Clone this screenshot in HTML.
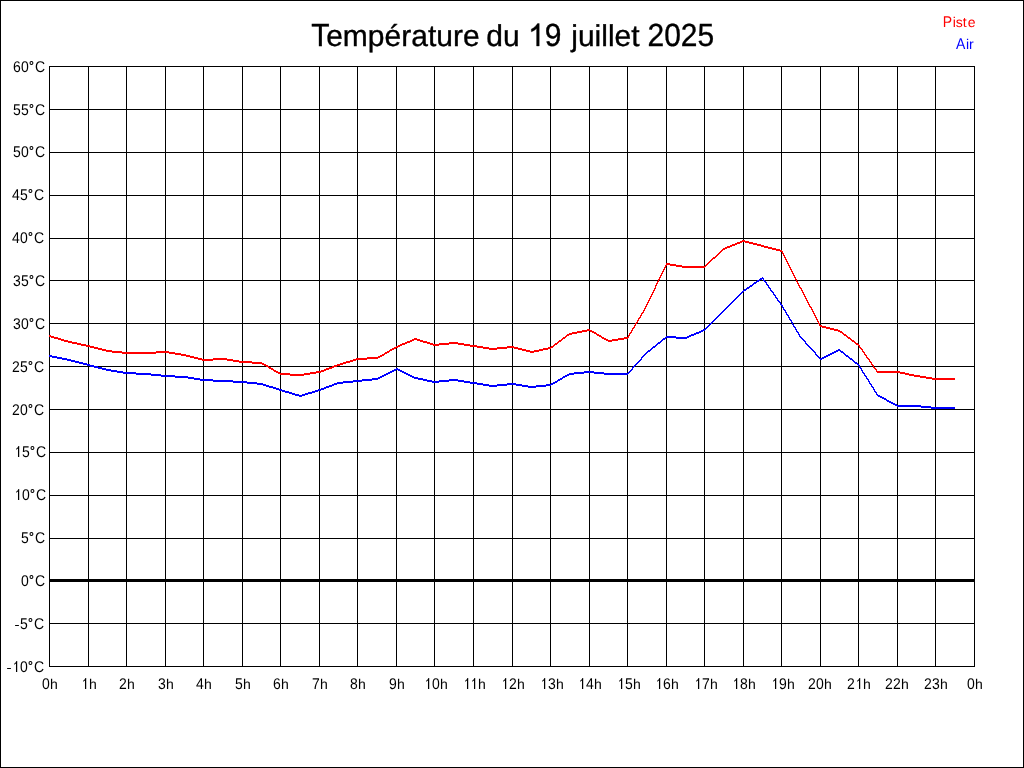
<!DOCTYPE html>
<html><head><meta charset="utf-8">
<style>
html,body{margin:0;padding:0;background:#fff;overflow:hidden;}
svg{display:block;will-change:transform;}
text{font-family:"Liberation Sans",sans-serif;font-size:14px;fill:#000;text-rendering:geometricPrecision;}
</style></head>
<body>
<svg width="1024" height="768" viewBox="0 0 1024 768">
<rect x="0" y="0" width="1024" height="768" fill="#fff"/>
<path shape-rendering="crispEdges" fill="#000" d="M0 0h1024v1h-1024zM0 767h1024v1h-1024zM0 0h1v768h-1zM1023 0h1v768h-1zM49 66h1v601h-1zM88 66h1v601h-1zM126 66h1v601h-1zM165 66h1v601h-1zM203 66h1v601h-1zM242 66h1v601h-1zM280 66h1v601h-1zM319 66h1v601h-1zM357 66h1v601h-1zM396 66h1v601h-1zM434 66h1v601h-1zM473 66h1v601h-1zM512 66h1v601h-1zM550 66h1v601h-1zM589 66h1v601h-1zM627 66h1v601h-1zM666 66h1v601h-1zM704 66h1v601h-1zM743 66h1v601h-1zM781 66h1v601h-1zM820 66h1v601h-1zM858 66h1v601h-1zM897 66h1v601h-1zM935 66h1v601h-1zM974 66h1v601h-1zM49 66h926v1h-926zM49 109h926v1h-926zM49 152h926v1h-926zM49 195h926v1h-926zM49 238h926v1h-926zM49 280h926v1h-926zM49 323h926v1h-926zM49 366h926v1h-926zM49 409h926v1h-926zM49 452h926v1h-926zM49 495h926v1h-926zM49 538h926v1h-926zM49 580h926v1h-926zM49 623h926v1h-926zM49 666h926v1h-926zM49 579h926v3h-926z"/>
<path shape-rendering="crispEdges" fill="#0000ff" d="M762 277h1v1h-1zM760 278h4v1h-4zM759 279h3v1h-3zM763 279h1v1h-1zM757 280h3v1h-3zM763 280h2v1h-2zM756 281h3v1h-3zM764 281h2v1h-2zM754 282h3v1h-3zM765 282h2v1h-2zM753 283h3v1h-3zM766 283h1v1h-1zM752 284h2v1h-2zM766 284h2v1h-2zM750 285h3v1h-3zM767 285h2v1h-2zM749 286h3v1h-3zM768 286h1v1h-1zM747 287h3v1h-3zM768 287h2v1h-2zM746 288h3v1h-3zM769 288h2v1h-2zM744 289h3v1h-3zM770 289h1v1h-1zM743 290h3v1h-3zM770 290h2v1h-2zM742 291h2v1h-2zM771 291h2v1h-2zM741 292h2v1h-2zM772 292h2v1h-2zM740 293h2v1h-2zM773 293h1v1h-1zM739 294h2v1h-2zM773 294h2v1h-2zM738 295h2v1h-2zM774 295h2v1h-2zM737 296h2v1h-2zM775 296h1v1h-1zM736 297h2v1h-2zM775 297h2v1h-2zM735 298h2v1h-2zM776 298h2v1h-2zM734 299h2v1h-2zM777 299h1v1h-1zM733 300h2v1h-2zM777 300h2v1h-2zM732 301h2v1h-2zM778 301h2v1h-2zM731 302h2v1h-2zM779 302h2v1h-2zM730 303h2v1h-2zM780 303h1v1h-1zM729 304h2v1h-2zM780 304h2v1h-2zM728 305h2v1h-2zM781 305h2v1h-2zM727 306h2v1h-2zM782 306h1v1h-1zM726 307h2v1h-2zM782 307h2v1h-2zM725 308h2v1h-2zM783 308h1v1h-1zM724 309h2v1h-2zM783 309h2v1h-2zM723 310h2v1h-2zM784 310h2v1h-2zM722 311h2v1h-2zM785 311h1v1h-1zM721 312h2v1h-2zM785 312h2v1h-2zM720 313h2v1h-2zM786 313h1v1h-1zM719 314h2v1h-2zM786 314h2v1h-2zM718 315h2v1h-2zM787 315h2v1h-2zM717 316h2v1h-2zM788 316h1v1h-1zM716 317h2v1h-2zM788 317h2v1h-2zM715 318h2v1h-2zM789 318h1v1h-1zM714 319h2v1h-2zM789 319h2v1h-2zM713 320h2v1h-2zM790 320h2v1h-2zM712 321h2v1h-2zM791 321h1v1h-1zM711 322h2v1h-2zM791 322h2v1h-2zM710 323h2v1h-2zM792 323h1v1h-1zM709 324h2v1h-2zM792 324h2v1h-2zM708 325h2v1h-2zM793 325h1v1h-1zM707 326h2v1h-2zM793 326h2v1h-2zM706 327h2v1h-2zM794 327h2v1h-2zM705 328h2v1h-2zM795 328h1v1h-1zM703 329h3v1h-3zM795 329h2v1h-2zM701 330h4v1h-4zM796 330h1v1h-1zM699 331h4v1h-4zM796 331h2v1h-2zM696 332h5v1h-5zM797 332h2v1h-2zM694 333h5v1h-5zM798 333h1v1h-1zM691 334h5v1h-5zM798 334h2v1h-2zM689 335h5v1h-5zM799 335h1v1h-1zM666 336h10v1h-10zM687 336h4v1h-4zM799 336h2v1h-2zM665 337h24v1h-24zM800 337h2v1h-2zM663 338h3v1h-3zM676 338h11v1h-11zM801 338h2v1h-2zM662 339h3v1h-3zM802 339h2v1h-2zM661 340h2v1h-2zM803 340h2v1h-2zM660 341h2v1h-2zM804 341h2v1h-2zM658 342h3v1h-3zM805 342h1v1h-1zM657 343h3v1h-3zM805 343h2v1h-2zM656 344h2v1h-2zM806 344h2v1h-2zM655 345h2v1h-2zM807 345h2v1h-2zM653 346h3v1h-3zM808 346h2v1h-2zM652 347h3v1h-3zM809 347h2v1h-2zM651 348h2v1h-2zM810 348h2v1h-2zM650 349h2v1h-2zM811 349h2v1h-2zM838 349h2v1h-2zM648 350h3v1h-3zM812 350h2v1h-2zM836 350h5v1h-5zM647 351h3v1h-3zM813 351h2v1h-2zM834 351h4v1h-4zM840 351h3v1h-3zM646 352h2v1h-2zM814 352h2v1h-2zM832 352h4v1h-4zM841 352h3v1h-3zM645 353h2v1h-2zM815 353h1v1h-1zM830 353h4v1h-4zM843 353h2v1h-2zM644 354h2v1h-2zM815 354h2v1h-2zM828 354h4v1h-4zM844 354h2v1h-2zM49 355h3v1h-3zM643 355h2v1h-2zM816 355h2v1h-2zM826 355h4v1h-4zM845 355h3v1h-3zM49 356h8v1h-8zM642 356h2v1h-2zM817 356h2v1h-2zM824 356h4v1h-4zM846 356h3v1h-3zM52 357h10v1h-10zM641 357h2v1h-2zM818 357h2v1h-2zM822 357h4v1h-4zM848 357h2v1h-2zM57 358h10v1h-10zM641 358h1v1h-1zM819 358h5v1h-5zM849 358h3v1h-3zM62 359h9v1h-9zM640 359h2v1h-2zM820 359h2v1h-2zM850 359h3v1h-3zM67 360h8v1h-8zM639 360h2v1h-2zM852 360h2v1h-2zM71 361h8v1h-8zM638 361h2v1h-2zM853 361h2v1h-2zM75 362h8v1h-8zM637 362h2v1h-2zM854 362h3v1h-3zM79 363h8v1h-8zM636 363h2v1h-2zM855 363h3v1h-3zM83 364h7v1h-7zM635 364h2v1h-2zM857 364h2v1h-2zM87 365h7v1h-7zM634 365h2v1h-2zM858 365h2v1h-2zM90 366h8v1h-8zM633 366h2v1h-2zM859 366h1v1h-1zM94 367h8v1h-8zM632 367h2v1h-2zM859 367h2v1h-2zM98 368h8v1h-8zM396 368h2v1h-2zM632 368h1v1h-1zM860 368h2v1h-2zM102 369h9v1h-9zM394 369h6v1h-6zM631 369h2v1h-2zM861 369h1v1h-1zM106 370h11v1h-11zM392 370h4v1h-4zM398 370h4v1h-4zM630 370h2v1h-2zM861 370h2v1h-2zM111 371h12v1h-12zM390 371h4v1h-4zM400 371h4v1h-4zM584 371h10v1h-10zM629 371h2v1h-2zM862 371h1v1h-1zM117 372h19v1h-19zM388 372h4v1h-4zM402 372h4v1h-4zM574 372h30v1h-30zM628 372h2v1h-2zM862 372h2v1h-2zM123 373h28v1h-28zM386 373h4v1h-4zM404 373h4v1h-4zM569 373h15v1h-15zM594 373h35v1h-35zM863 373h2v1h-2zM136 374h25v1h-25zM384 374h4v1h-4zM406 374h4v1h-4zM567 374h7v1h-7zM604 374h24v1h-24zM864 374h1v1h-1zM151 375h24v1h-24zM382 375h4v1h-4zM408 375h4v1h-4zM565 375h4v1h-4zM864 375h2v1h-2zM161 376h27v1h-27zM380 376h4v1h-4zM410 376h4v1h-4zM563 376h4v1h-4zM865 376h2v1h-2zM175 377h19v1h-19zM378 377h4v1h-4zM412 377h6v1h-6zM562 377h3v1h-3zM866 377h1v1h-1zM188 378h12v1h-12zM372 378h8v1h-8zM414 378h9v1h-9zM560 378h3v1h-3zM866 378h2v1h-2zM194 379h19v1h-19zM362 379h16v1h-16zM418 379h9v1h-9zM449 379h9v1h-9zM558 379h4v1h-4zM867 379h2v1h-2zM200 380h33v1h-33zM353 380h19v1h-19zM423 380h9v1h-9zM439 380h25v1h-25zM557 380h3v1h-3zM868 380h1v1h-1zM213 381h34v1h-34zM343 381h19v1h-19zM427 381h22v1h-22zM458 381h12v1h-12zM555 381h3v1h-3zM868 381h2v1h-2zM233 382h24v1h-24zM337 382h16v1h-16zM432 382h7v1h-7zM464 382h13v1h-13zM553 382h4v1h-4zM869 382h1v1h-1zM247 383h16v1h-16zM334 383h9v1h-9zM470 383h13v1h-13zM507 383h9v1h-9zM551 383h4v1h-4zM869 383h2v1h-2zM257 384h9v1h-9zM332 384h5v1h-5zM477 384h12v1h-12zM497 384h25v1h-25zM546 384h7v1h-7zM870 384h2v1h-2zM263 385h6v1h-6zM329 385h5v1h-5zM483 385h24v1h-24zM516 385h12v1h-12zM536 385h15v1h-15zM871 385h1v1h-1zM266 386h7v1h-7zM326 386h6v1h-6zM489 386h8v1h-8zM522 386h24v1h-24zM871 386h2v1h-2zM269 387h7v1h-7zM324 387h5v1h-5zM528 387h8v1h-8zM872 387h2v1h-2zM273 388h6v1h-6zM321 388h5v1h-5zM873 388h1v1h-1zM276 389h6v1h-6zM318 389h6v1h-6zM873 389h2v1h-2zM279 390h6v1h-6zM315 390h6v1h-6zM874 390h1v1h-1zM282 391h7v1h-7zM312 391h6v1h-6zM874 391h2v1h-2zM285 392h7v1h-7zM308 392h7v1h-7zM875 392h2v1h-2zM289 393h6v1h-6zM305 393h7v1h-7zM876 393h1v1h-1zM292 394h7v1h-7zM302 394h6v1h-6zM876 394h2v1h-2zM295 395h10v1h-10zM877 395h3v1h-3zM299 396h3v1h-3zM878 396h4v1h-4zM880 397h4v1h-4zM882 398h4v1h-4zM884 399h3v1h-3zM886 400h3v1h-3zM887 401h4v1h-4zM889 402h4v1h-4zM891 403h4v1h-4zM893 404h4v1h-4zM895 405h26v1h-26zM897 406h34v1h-34zM921 407h34v1h-34zM931 408h24v1h-24z"/>
<path shape-rendering="crispEdges" fill="#ff0000" d="M742 240h3v1h-3zM740 241h9v1h-9zM737 242h5v1h-5zM745 242h8v1h-8zM735 243h5v1h-5zM749 243h8v1h-8zM732 244h5v1h-5zM753 244h8v1h-8zM730 245h5v1h-5zM757 245h7v1h-7zM727 246h5v1h-5zM761 246h7v1h-7zM725 247h5v1h-5zM764 247h8v1h-8zM723 248h4v1h-4zM768 248h8v1h-8zM722 249h3v1h-3zM772 249h8v1h-8zM721 250h2v1h-2zM776 250h6v1h-6zM720 251h2v1h-2zM780 251h3v1h-3zM719 252h2v1h-2zM782 252h1v1h-1zM718 253h2v1h-2zM782 253h2v1h-2zM717 254h2v1h-2zM783 254h1v1h-1zM716 255h2v1h-2zM783 255h2v1h-2zM715 256h2v1h-2zM784 256h1v1h-1zM713 257h3v1h-3zM784 257h2v1h-2zM712 258h3v1h-3zM785 258h1v1h-1zM711 259h2v1h-2zM785 259h2v1h-2zM710 260h2v1h-2zM786 260h1v1h-1zM709 261h2v1h-2zM786 261h2v1h-2zM708 262h2v1h-2zM787 262h1v1h-1zM666 263h4v1h-4zM707 263h2v1h-2zM787 263h2v1h-2zM666 264h10v1h-10zM706 264h2v1h-2zM788 264h1v1h-1zM665 265h2v1h-2zM670 265h12v1h-12zM705 265h2v1h-2zM788 265h2v1h-2zM665 266h1v1h-1zM676 266h30v1h-30zM789 266h1v1h-1zM664 267h2v1h-2zM682 267h23v1h-23zM789 267h2v1h-2zM664 268h1v1h-1zM790 268h1v1h-1zM663 269h2v1h-2zM790 269h2v1h-2zM663 270h1v1h-1zM791 270h1v1h-1zM662 271h2v1h-2zM791 271h2v1h-2zM662 272h1v1h-1zM792 272h1v1h-1zM661 273h2v1h-2zM792 273h2v1h-2zM661 274h1v1h-1zM793 274h1v1h-1zM660 275h2v1h-2zM793 275h2v1h-2zM660 276h1v1h-1zM794 276h1v1h-1zM659 277h2v1h-2zM794 277h2v1h-2zM659 278h1v1h-1zM795 278h1v1h-1zM658 279h2v1h-2zM795 279h2v1h-2zM658 280h1v1h-1zM796 280h1v1h-1zM657 281h2v1h-2zM796 281h2v1h-2zM657 282h1v1h-1zM797 282h1v1h-1zM656 283h2v1h-2zM797 283h2v1h-2zM656 284h1v1h-1zM798 284h1v1h-1zM655 285h2v1h-2zM798 285h2v1h-2zM655 286h1v1h-1zM799 286h1v1h-1zM655 287h1v1h-1zM799 287h2v1h-2zM654 288h2v1h-2zM800 288h2v1h-2zM654 289h1v1h-1zM801 289h1v1h-1zM653 290h2v1h-2zM801 290h2v1h-2zM653 291h1v1h-1zM802 291h1v1h-1zM652 292h2v1h-2zM802 292h2v1h-2zM652 293h1v1h-1zM803 293h1v1h-1zM651 294h2v1h-2zM803 294h2v1h-2zM651 295h1v1h-1zM804 295h1v1h-1zM650 296h2v1h-2zM804 296h2v1h-2zM650 297h1v1h-1zM805 297h1v1h-1zM649 298h2v1h-2zM805 298h2v1h-2zM649 299h1v1h-1zM806 299h1v1h-1zM648 300h2v1h-2zM806 300h2v1h-2zM648 301h1v1h-1zM807 301h1v1h-1zM647 302h2v1h-2zM807 302h2v1h-2zM647 303h1v1h-1zM808 303h1v1h-1zM646 304h2v1h-2zM808 304h2v1h-2zM646 305h1v1h-1zM809 305h1v1h-1zM645 306h2v1h-2zM809 306h2v1h-2zM645 307h1v1h-1zM810 307h2v1h-2zM644 308h2v1h-2zM811 308h1v1h-1zM644 309h1v1h-1zM811 309h2v1h-2zM643 310h2v1h-2zM812 310h1v1h-1zM643 311h1v1h-1zM812 311h2v1h-2zM642 312h2v1h-2zM813 312h1v1h-1zM641 313h2v1h-2zM813 313h2v1h-2zM641 314h1v1h-1zM814 314h1v1h-1zM640 315h2v1h-2zM814 315h2v1h-2zM640 316h1v1h-1zM815 316h1v1h-1zM639 317h2v1h-2zM815 317h2v1h-2zM638 318h2v1h-2zM816 318h1v1h-1zM638 319h1v1h-1zM816 319h2v1h-2zM637 320h2v1h-2zM817 320h1v1h-1zM637 321h1v1h-1zM817 321h2v1h-2zM636 322h2v1h-2zM818 322h1v1h-1zM635 323h2v1h-2zM818 323h2v1h-2zM635 324h1v1h-1zM819 324h1v1h-1zM634 325h2v1h-2zM819 325h3v1h-3zM634 326h1v1h-1zM820 326h6v1h-6zM633 327h2v1h-2zM822 327h8v1h-8zM632 328h2v1h-2zM826 328h8v1h-8zM587 329h3v1h-3zM632 329h1v1h-1zM830 329h8v1h-8zM582 330h10v1h-10zM631 330h2v1h-2zM834 330h6v1h-6zM577 331h10v1h-10zM590 331h4v1h-4zM631 331h1v1h-1zM838 331h4v1h-4zM572 332h10v1h-10zM592 332h4v1h-4zM630 332h2v1h-2zM840 332h3v1h-3zM569 333h8v1h-8zM594 333h3v1h-3zM629 333h2v1h-2zM842 333h2v1h-2zM567 334h5v1h-5zM596 334h3v1h-3zM629 334h1v1h-1zM843 334h3v1h-3zM49 335h2v1h-2zM566 335h3v1h-3zM597 335h4v1h-4zM628 335h2v1h-2zM844 335h3v1h-3zM49 336h5v1h-5zM565 336h2v1h-2zM599 336h3v1h-3zM628 336h1v1h-1zM846 336h2v1h-2zM51 337h7v1h-7zM563 337h3v1h-3zM601 337h3v1h-3zM624 337h5v1h-5zM847 337h3v1h-3zM54 338h7v1h-7zM414 338h3v1h-3zM562 338h3v1h-3zM602 338h4v1h-4zM618 338h10v1h-10zM848 338h3v1h-3zM58 339h6v1h-6zM412 339h8v1h-8zM561 339h2v1h-2zM604 339h4v1h-4zM612 339h12v1h-12zM850 339h2v1h-2zM61 340h7v1h-7zM410 340h4v1h-4zM417 340h6v1h-6zM559 340h3v1h-3zM606 340h12v1h-12zM851 340h3v1h-3zM64 341h8v1h-8zM407 341h5v1h-5zM420 341h7v1h-7zM558 341h3v1h-3zM608 341h4v1h-4zM852 341h3v1h-3zM68 342h9v1h-9zM405 342h5v1h-5zM423 342h7v1h-7zM449 342h9v1h-9zM557 342h2v1h-2zM854 342h2v1h-2zM72 343h9v1h-9zM402 343h5v1h-5zM427 343h6v1h-6zM439 343h25v1h-25zM555 343h3v1h-3zM855 343h3v1h-3zM77 344h9v1h-9zM400 344h5v1h-5zM430 344h19v1h-19zM458 344h12v1h-12zM554 344h3v1h-3zM856 344h3v1h-3zM81 345h9v1h-9zM398 345h4v1h-4zM433 345h6v1h-6zM464 345h13v1h-13zM553 345h2v1h-2zM858 345h2v1h-2zM86 346h8v1h-8zM396 346h4v1h-4zM470 346h13v1h-13zM507 346h7v1h-7zM551 346h3v1h-3zM859 346h1v1h-1zM90 347h8v1h-8zM394 347h4v1h-4zM477 347h12v1h-12zM497 347h21v1h-21zM548 347h5v1h-5zM859 347h2v1h-2zM94 348h8v1h-8zM392 348h4v1h-4zM483 348h24v1h-24zM514 348h8v1h-8zM543 348h8v1h-8zM860 348h2v1h-2zM98 349h8v1h-8zM390 349h4v1h-4zM489 349h8v1h-8zM518 349h8v1h-8zM539 349h9v1h-9zM861 349h2v1h-2zM102 350h10v1h-10zM389 350h3v1h-3zM522 350h8v1h-8zM534 350h9v1h-9zM862 350h1v1h-1zM106 351h16v1h-16zM156 351h13v1h-13zM387 351h3v1h-3zM526 351h13v1h-13zM862 351h2v1h-2zM112 352h63v1h-63zM385 352h4v1h-4zM530 352h4v1h-4zM863 352h2v1h-2zM122 353h34v1h-34zM169 353h12v1h-12zM384 353h3v1h-3zM864 353h1v1h-1zM175 354h11v1h-11zM382 354h3v1h-3zM864 354h2v1h-2zM181 355h9v1h-9zM380 355h4v1h-4zM865 355h2v1h-2zM186 356h8v1h-8zM378 356h4v1h-4zM866 356h1v1h-1zM190 357h8v1h-8zM367 357h13v1h-13zM866 357h2v1h-2zM194 358h8v1h-8zM213 358h14v1h-14zM356 358h22v1h-22zM867 358h2v1h-2zM198 359h35v1h-35zM353 359h14v1h-14zM868 359h2v1h-2zM202 360h11v1h-11zM227 360h12v1h-12zM350 360h6v1h-6zM869 360h1v1h-1zM233 361h19v1h-19zM346 361h7v1h-7zM869 361h2v1h-2zM239 362h23v1h-23zM343 362h7v1h-7zM870 362h2v1h-2zM252 363h12v1h-12zM340 363h6v1h-6zM871 363h1v1h-1zM262 364h4v1h-4zM337 364h6v1h-6zM871 364h2v1h-2zM264 365h4v1h-4zM334 365h6v1h-6zM872 365h2v1h-2zM266 366h3v1h-3zM332 366h5v1h-5zM873 366h1v1h-1zM268 367h3v1h-3zM329 367h5v1h-5zM873 367h2v1h-2zM269 368h4v1h-4zM326 368h6v1h-6zM874 368h2v1h-2zM271 369h3v1h-3zM324 369h5v1h-5zM875 369h2v1h-2zM273 370h3v1h-3zM321 370h5v1h-5zM876 370h1v1h-1zM274 371h4v1h-4zM316 371h8v1h-8zM876 371h24v1h-24zM276 372h4v1h-4zM310 372h11v1h-11zM877 372h28v1h-28zM278 373h12v1h-12zM304 373h12v1h-12zM900 373h9v1h-9zM280 374h30v1h-30zM905 374h9v1h-9zM290 375h14v1h-14zM909 375h11v1h-11zM914 376h12v1h-12zM920 377h12v1h-12zM926 378h29v1h-29zM932 379h23v1h-23z"/>
<g>
<text transform="translate(13.000 72) scale(0.89767 1)" x="0" y="0" style="font-size:15.596px;">6</text><text transform="translate(21.000 72) scale(0.89767 1)" x="0" y="0" style="font-size:15.596px;">0</text><circle cx="31.450" cy="62.950" r="1.45" fill="none" stroke="#000" stroke-width="1.05"/><text transform="translate(35.000 72) scale(0.89767 1)" x="0" y="0" style="font-size:15.596px;">C</text><text transform="translate(13.000 115) scale(0.89767 1)" x="0" y="0" style="font-size:15.596px;">5</text><text transform="translate(21.000 115) scale(0.89767 1)" x="0" y="0" style="font-size:15.596px;">5</text><circle cx="31.450" cy="105.950" r="1.45" fill="none" stroke="#000" stroke-width="1.05"/><text transform="translate(35.000 115) scale(0.89767 1)" x="0" y="0" style="font-size:15.596px;">C</text><text transform="translate(13.000 157) scale(0.89767 1)" x="0" y="0" style="font-size:15.596px;">5</text><text transform="translate(21.000 157) scale(0.89767 1)" x="0" y="0" style="font-size:15.596px;">0</text><circle cx="31.450" cy="147.950" r="1.45" fill="none" stroke="#000" stroke-width="1.05"/><text transform="translate(35.000 157) scale(0.89767 1)" x="0" y="0" style="font-size:15.596px;">C</text><text transform="translate(12.000 200) scale(0.89767 1)" x="0" y="0" style="font-size:15.596px;">4</text><text transform="translate(20.000 200) scale(0.89767 1)" x="0" y="0" style="font-size:15.596px;">5</text><circle cx="30.450" cy="190.950" r="1.45" fill="none" stroke="#000" stroke-width="1.05"/><text transform="translate(34.000 200) scale(0.89767 1)" x="0" y="0" style="font-size:15.596px;">C</text><text transform="translate(12.000 243) scale(0.89767 1)" x="0" y="0" style="font-size:15.596px;">4</text><text transform="translate(20.000 243) scale(0.89767 1)" x="0" y="0" style="font-size:15.596px;">0</text><circle cx="30.450" cy="233.950" r="1.45" fill="none" stroke="#000" stroke-width="1.05"/><text transform="translate(34.000 243) scale(0.89767 1)" x="0" y="0" style="font-size:15.596px;">C</text><text transform="translate(13.000 286) scale(0.89767 1)" x="0" y="0" style="font-size:15.596px;">3</text><text transform="translate(21.000 286) scale(0.89767 1)" x="0" y="0" style="font-size:15.596px;">5</text><circle cx="31.450" cy="276.950" r="1.45" fill="none" stroke="#000" stroke-width="1.05"/><text transform="translate(35.000 286) scale(0.89767 1)" x="0" y="0" style="font-size:15.596px;">C</text><text transform="translate(13.000 329) scale(0.89767 1)" x="0" y="0" style="font-size:15.596px;">3</text><text transform="translate(21.000 329) scale(0.89767 1)" x="0" y="0" style="font-size:15.596px;">0</text><circle cx="31.450" cy="319.950" r="1.45" fill="none" stroke="#000" stroke-width="1.05"/><text transform="translate(35.000 329) scale(0.89767 1)" x="0" y="0" style="font-size:15.596px;">C</text><text transform="translate(12.000 372) scale(0.89767 1)" x="0" y="0" style="font-size:15.596px;">2</text><text transform="translate(20.000 372) scale(0.89767 1)" x="0" y="0" style="font-size:15.596px;">5</text><circle cx="30.450" cy="362.950" r="1.45" fill="none" stroke="#000" stroke-width="1.05"/><text transform="translate(34.000 372) scale(0.89767 1)" x="0" y="0" style="font-size:15.596px;">C</text><text transform="translate(12.000 415) scale(0.89767 1)" x="0" y="0" style="font-size:15.596px;">2</text><text transform="translate(20.000 415) scale(0.89767 1)" x="0" y="0" style="font-size:15.596px;">0</text><circle cx="30.450" cy="405.950" r="1.45" fill="none" stroke="#000" stroke-width="1.05"/><text transform="translate(34.000 415) scale(0.89767 1)" x="0" y="0" style="font-size:15.596px;">C</text><path transform="translate(14.000 457) scale(0.006836 -0.007615)" fill="#000" d="M763 0H583V1120Q500 1045 300 950V1090Q430 1160 520 1260Q600 1350 647 1430H763Z"/><text transform="translate(22.000 457) scale(0.89767 1)" x="0" y="0" style="font-size:15.596px;">5</text><circle cx="32.450" cy="447.950" r="1.45" fill="none" stroke="#000" stroke-width="1.05"/><text transform="translate(36.000 457) scale(0.89767 1)" x="0" y="0" style="font-size:15.596px;">C</text><path transform="translate(14.000 500) scale(0.006836 -0.007615)" fill="#000" d="M763 0H583V1120Q500 1045 300 950V1090Q430 1160 520 1260Q600 1350 647 1430H763Z"/><text transform="translate(22.000 500) scale(0.89767 1)" x="0" y="0" style="font-size:15.596px;">0</text><circle cx="32.450" cy="490.950" r="1.45" fill="none" stroke="#000" stroke-width="1.05"/><text transform="translate(36.000 500) scale(0.89767 1)" x="0" y="0" style="font-size:15.596px;">C</text><text transform="translate(21.000 543) scale(0.89767 1)" x="0" y="0" style="font-size:15.596px;">5</text><circle cx="31.450" cy="533.950" r="1.45" fill="none" stroke="#000" stroke-width="1.05"/><text transform="translate(35.000 543) scale(0.89767 1)" x="0" y="0" style="font-size:15.596px;">C</text><text transform="translate(21.000 586) scale(0.89767 1)" x="0" y="0" style="font-size:15.596px;">0</text><circle cx="31.450" cy="576.950" r="1.45" fill="none" stroke="#000" stroke-width="1.05"/><text transform="translate(35.000 586) scale(0.89767 1)" x="0" y="0" style="font-size:15.596px;">C</text><rect x="15.100" y="625" width="3.8" height="1" fill="#000"/><text transform="translate(20.000 629) scale(0.89767 1)" x="0" y="0" style="font-size:15.596px;">5</text><circle cx="30.450" cy="619.950" r="1.45" fill="none" stroke="#000" stroke-width="1.05"/><text transform="translate(34.000 629) scale(0.89767 1)" x="0" y="0" style="font-size:15.596px;">C</text><rect x="7.100" y="668" width="3.8" height="1" fill="#000"/><path transform="translate(12.000 672) scale(0.006836 -0.007615)" fill="#000" d="M763 0H583V1120Q500 1045 300 950V1090Q430 1160 520 1260Q600 1350 647 1430H763Z"/><text transform="translate(20.000 672) scale(0.89767 1)" x="0" y="0" style="font-size:15.596px;">0</text><circle cx="30.450" cy="662.950" r="1.45" fill="none" stroke="#000" stroke-width="1.05"/><text transform="translate(34.000 672) scale(0.89767 1)" x="0" y="0" style="font-size:15.596px;">C</text><text transform="translate(42.000 689) scale(0.89767 1)" x="0" y="0" style="font-size:15.596px;">0</text><text x="50.000" y="689" style="font-size:14px;">h</text><path transform="translate(81.000 689) scale(0.006836 -0.007615)" fill="#000" d="M763 0H583V1120Q500 1045 300 950V1090Q430 1160 520 1260Q600 1350 647 1430H763Z"/><text x="89.000" y="689" style="font-size:14px;">h</text><text transform="translate(119.000 689) scale(0.89767 1)" x="0" y="0" style="font-size:15.596px;">2</text><text x="127.000" y="689" style="font-size:14px;">h</text><text transform="translate(158.000 689) scale(0.89767 1)" x="0" y="0" style="font-size:15.596px;">3</text><text x="166.000" y="689" style="font-size:14px;">h</text><text transform="translate(196.000 689) scale(0.89767 1)" x="0" y="0" style="font-size:15.596px;">4</text><text x="204.000" y="689" style="font-size:14px;">h</text><text transform="translate(235.000 689) scale(0.89767 1)" x="0" y="0" style="font-size:15.596px;">5</text><text x="243.000" y="689" style="font-size:14px;">h</text><text transform="translate(273.000 689) scale(0.89767 1)" x="0" y="0" style="font-size:15.596px;">6</text><text x="281.000" y="689" style="font-size:14px;">h</text><text transform="translate(312.000 689) scale(0.89767 1)" x="0" y="0" style="font-size:15.596px;">7</text><text x="320.000" y="689" style="font-size:14px;">h</text><text transform="translate(350.000 689) scale(0.89767 1)" x="0" y="0" style="font-size:15.596px;">8</text><text x="358.000" y="689" style="font-size:14px;">h</text><text transform="translate(389.000 689) scale(0.89767 1)" x="0" y="0" style="font-size:15.596px;">9</text><text x="397.000" y="689" style="font-size:14px;">h</text><path transform="translate(424.000 689) scale(0.006836 -0.007615)" fill="#000" d="M763 0H583V1120Q500 1045 300 950V1090Q430 1160 520 1260Q600 1350 647 1430H763Z"/><text transform="translate(432.000 689) scale(0.89767 1)" x="0" y="0" style="font-size:15.596px;">0</text><text x="440.000" y="689" style="font-size:14px;">h</text><path transform="translate(463.000 689) scale(0.006836 -0.007615)" fill="#000" d="M763 0H583V1120Q500 1045 300 950V1090Q430 1160 520 1260Q600 1350 647 1430H763Z"/><path transform="translate(470.000 689) scale(0.006836 -0.007615)" fill="#000" d="M763 0H583V1120Q500 1045 300 950V1090Q430 1160 520 1260Q600 1350 647 1430H763Z"/><text x="478.000" y="689" style="font-size:14px;">h</text><path transform="translate(501.000 689) scale(0.006836 -0.007615)" fill="#000" d="M763 0H583V1120Q500 1045 300 950V1090Q430 1160 520 1260Q600 1350 647 1430H763Z"/><text transform="translate(509.000 689) scale(0.89767 1)" x="0" y="0" style="font-size:15.596px;">2</text><text x="517.000" y="689" style="font-size:14px;">h</text><path transform="translate(540.000 689) scale(0.006836 -0.007615)" fill="#000" d="M763 0H583V1120Q500 1045 300 950V1090Q430 1160 520 1260Q600 1350 647 1430H763Z"/><text transform="translate(548.000 689) scale(0.89767 1)" x="0" y="0" style="font-size:15.596px;">3</text><text x="556.000" y="689" style="font-size:14px;">h</text><path transform="translate(578.000 689) scale(0.006836 -0.007615)" fill="#000" d="M763 0H583V1120Q500 1045 300 950V1090Q430 1160 520 1260Q600 1350 647 1430H763Z"/><text transform="translate(586.000 689) scale(0.89767 1)" x="0" y="0" style="font-size:15.596px;">4</text><text x="594.000" y="689" style="font-size:14px;">h</text><path transform="translate(617.000 689) scale(0.006836 -0.007615)" fill="#000" d="M763 0H583V1120Q500 1045 300 950V1090Q430 1160 520 1260Q600 1350 647 1430H763Z"/><text transform="translate(625.000 689) scale(0.89767 1)" x="0" y="0" style="font-size:15.596px;">5</text><text x="633.000" y="689" style="font-size:14px;">h</text><path transform="translate(655.000 689) scale(0.006836 -0.007615)" fill="#000" d="M763 0H583V1120Q500 1045 300 950V1090Q430 1160 520 1260Q600 1350 647 1430H763Z"/><text transform="translate(663.000 689) scale(0.89767 1)" x="0" y="0" style="font-size:15.596px;">6</text><text x="671.000" y="689" style="font-size:14px;">h</text><path transform="translate(694.000 689) scale(0.006836 -0.007615)" fill="#000" d="M763 0H583V1120Q500 1045 300 950V1090Q430 1160 520 1260Q600 1350 647 1430H763Z"/><text transform="translate(702.000 689) scale(0.89767 1)" x="0" y="0" style="font-size:15.596px;">7</text><text x="710.000" y="689" style="font-size:14px;">h</text><path transform="translate(732.000 689) scale(0.006836 -0.007615)" fill="#000" d="M763 0H583V1120Q500 1045 300 950V1090Q430 1160 520 1260Q600 1350 647 1430H763Z"/><text transform="translate(740.000 689) scale(0.89767 1)" x="0" y="0" style="font-size:15.596px;">8</text><text x="748.000" y="689" style="font-size:14px;">h</text><path transform="translate(771.000 689) scale(0.006836 -0.007615)" fill="#000" d="M763 0H583V1120Q500 1045 300 950V1090Q430 1160 520 1260Q600 1350 647 1430H763Z"/><text transform="translate(779.000 689) scale(0.89767 1)" x="0" y="0" style="font-size:15.596px;">9</text><text x="787.000" y="689" style="font-size:14px;">h</text><text transform="translate(808.000 689) scale(0.89767 1)" x="0" y="0" style="font-size:15.596px;">2</text><text transform="translate(816.000 689) scale(0.89767 1)" x="0" y="0" style="font-size:15.596px;">0</text><text x="824.000" y="689" style="font-size:14px;">h</text><text transform="translate(847.000 689) scale(0.89767 1)" x="0" y="0" style="font-size:15.596px;">2</text><path transform="translate(855.000 689) scale(0.006836 -0.007615)" fill="#000" d="M763 0H583V1120Q500 1045 300 950V1090Q430 1160 520 1260Q600 1350 647 1430H763Z"/><text x="863.000" y="689" style="font-size:14px;">h</text><text transform="translate(885.000 689) scale(0.89767 1)" x="0" y="0" style="font-size:15.596px;">2</text><text transform="translate(893.000 689) scale(0.89767 1)" x="0" y="0" style="font-size:15.596px;">2</text><text x="901.000" y="689" style="font-size:14px;">h</text><text transform="translate(924.000 689) scale(0.89767 1)" x="0" y="0" style="font-size:15.596px;">2</text><text transform="translate(932.000 689) scale(0.89767 1)" x="0" y="0" style="font-size:15.596px;">3</text><text x="940.000" y="689" style="font-size:14px;">h</text><text transform="translate(967.000 689) scale(0.89767 1)" x="0" y="0" style="font-size:15.596px;">0</text><text x="975.000" y="689" style="font-size:14px;">h</text>
</g>
<text transform="translate(311.203 46) scale(0.93458 1)" x="0" y="0" style="font-size:32.100px;stroke:#000;stroke-width:0.35px;" xml:space="preserve">T</text><text x="326.203" y="46" style="font-size:30px;stroke:#000;stroke-width:0.35px;" xml:space="preserve">empérature</text><text x="486.351" y="46" style="font-size:30px;stroke:#000;stroke-width:0.35px;" xml:space="preserve">du</text><path transform="translate(528.055 46) scale(0.014648 -0.015674)" fill="#000" stroke="#000" stroke-width="23.9" d="M763 0H583V1120Q518 1058 413 996Q308 934 223 903V1077Q374 1148 487 1249Q600 1350 647 1430H763Z"/><text transform="translate(544.740 46) scale(0.93458 1)" x="0" y="0" style="font-size:32.100px;stroke:#000;stroke-width:0.35px;" xml:space="preserve">9</text><text x="571.259" y="46" style="font-size:30px;stroke:#000;stroke-width:0.35px;" xml:space="preserve">juillet</text><text transform="translate(647.459 46) scale(0.93458 1)" x="0" y="0" style="font-size:32.100px;stroke:#000;stroke-width:0.35px;" xml:space="preserve">2025</text>
<text transform="translate(942.800 26.5) scale(0.89767 1)" x="0" y="0" style="font-size:15.596px;fill:#ff0000;">P</text><text x="952.800" y="26.5" style="font-size:14px;fill:#ff0000;">i</text><text x="955.800" y="26.5" style="font-size:14px;fill:#ff0000;">s</text><text x="962.800" y="26.5" style="font-size:14px;fill:#ff0000;">t</text><text x="967.800" y="26.5" style="font-size:14px;fill:#ff0000;">e</text>
<text transform="translate(955.900 48.5) scale(0.89767 1)" x="0" y="0" style="font-size:15.596px;fill:#0000ff;">A</text><text x="965.900" y="48.5" style="font-size:14px;fill:#0000ff;">i</text><text x="968.900" y="48.5" style="font-size:14px;fill:#0000ff;">r</text>
</svg>
</body></html>
